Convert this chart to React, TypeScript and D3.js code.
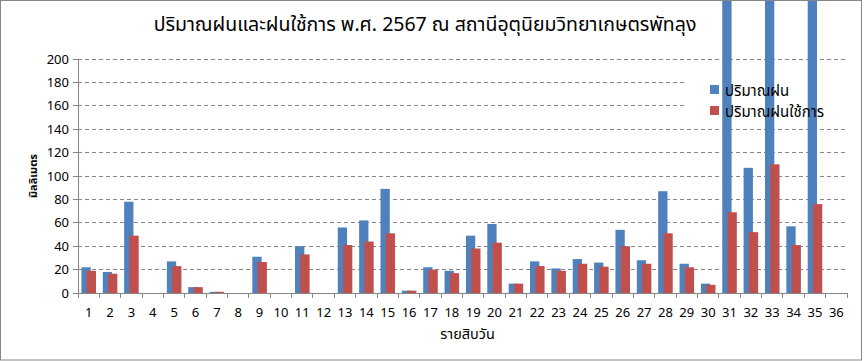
import React from "react";
import * as d3 from "d3";

const categories = ["1","2","3","4","5","6","7","8","9","10","11","12","13","14","15","16","17","18","19","20","21","22","23","24","25","26","27","28","29","30","31","32","33","34","35","36"];
const rainfall = [22, 18, 78, 0, 27, 5, 1, 0, 31, 0, 40, 0, 56, 62, 89, 2, 22, 19, 49, 59, 8, 27, 21, 29, 26, 54, 28, 87, 25, 8, 260, 107, 310, 57, 280, 0];
const effectiveRain = [19, 16.5, 49, 0, 23, 5, 1, 0, 26.5, 0, 33, 0, 41, 44, 51, 2, 20, 17, 38, 43, 8, 23, 19, 25, 22.5, 40, 25, 51, 22, 7, 69, 52, 110, 41, 76, 0];
const yTicks = [0, 20, 40, 60, 80, 100, 120, 140, 160, 180, 200];
const seriesNames = ["ปริมาณฝน", "ปริมาณฝนใช้การ"];
const title = "ปริมาณฝนและฝนใช้การ พ.ศ. 2567 ณ สถานีอุตุนิยมวิทยาเกษตรพัทลุง";
const xTitle = "รายสิบวัน";
const yTitle = "มิลลิเมตร";

const W = 864, H = 361;
const L = 78, R = 847, T = 59, B = 293;
const FONT = "Tahoma, 'Noto Sans Thai', 'Noto Sans', 'DejaVu Sans', sans-serif";
const AXIS = "#868686";
const BLUE = "#4F81BD";
const RED = "#C0504D";

export default function App() {
  const x = d3.scaleBand<string>().domain(categories).range([L, R]).padding(0);
  const y = d3.scaleLinear().domain([0, 200]).range([B, T]);
  const bw = x.bandwidth();
  const barW = 9.3;
  const bars = categories.map((c, i) => {
    const cx = (x(c) as number) + bw / 2;
    return { c, cx, v1: rainfall[i], v2: effectiveRain[i] };
  });
  return (
    <div style={{ position: "absolute", left: 0, top: 0, width: W, height: H, background: "#fff" }}>
      <svg width={W} height={H} style={{ display: "block", fontFamily: FONT }}>
        <rect x={0} y={0} width={W} height={H} fill="#fff" />
        {/* gridlines */}
        {yTicks.filter((t) => t > 0).map((t) => (
          <line key={"g" + t} x1={L} x2={R} y1={y(t)} y2={y(t)} stroke={AXIS} strokeWidth={1} strokeDasharray="4,3" shapeRendering="crispEdges" />
        ))}
        {/* legend background */}
        <rect x={685} y={70} width={160} height={50} fill="#fff" />
        {/* bars */}
        {bars.map((b) => (
          <g key={"b" + b.c}>
            {b.v1 > 0 && (
              <rect x={b.cx - 7.25} y={y(b.v1)} width={barW} height={B - y(b.v1)} fill={BLUE} />
            )}
            {b.v2 > 0 && (
              <rect x={b.cx - 2} y={y(b.v2)} width={barW} height={B - y(b.v2)} fill={RED} />
            )}
          </g>
        ))}
        {/* axes */}
        <line x1={L} x2={L} y1={T} y2={B} stroke={AXIS} shapeRendering="crispEdges" />
        <line x1={L - 5} x2={R} y1={B} y2={B} stroke={AXIS} shapeRendering="crispEdges" />
        {yTicks.map((t) => (
          <g key={"yt" + t}>
            <line x1={L - 5} x2={L} y1={y(t)} y2={y(t)} stroke={AXIS} shapeRendering="crispEdges" />
            <text x={L - 9} y={y(t)} dy="0.35em" textAnchor="end" fontSize={13} fill="#000">{t}</text>
          </g>
        ))}
        {categories.map((c) => (
          <line key={"xt" + c} x1={x(c) as number} x2={x(c) as number} y1={B} y2={B + 5} stroke={AXIS} shapeRendering="crispEdges" />
        ))}
        <line x1={R} x2={R} y1={B} y2={B + 5} stroke={AXIS} shapeRendering="crispEdges" />
        {categories.map((c) => (
          <text key={"xl" + c} x={(x(c) as number) + bw / 2} y={317} textAnchor="middle" fontSize={13} fill="#000">{c}</text>
        ))}
        {/* titles */}
        <text x={425} y={31} textAnchor="middle" fontSize={19.5} fill="#000">{title}</text>
        <text x={(L + R) / 2 + 5} y={339} textAnchor="middle" fontSize={14.5} fill="#000">{xTitle}</text>
        <text transform={`translate(37, ${(T + B) / 2}) rotate(-90)`} textAnchor="middle" fontSize={11} fontWeight="bold" fill="#000">{yTitle}</text>
        {/* legend */}
        <rect x={710} y={85} width={9} height={9} fill={BLUE} />
        <text x={725} y={96} fontSize={15} fill="#000">{seriesNames[0]}</text>
        <rect x={710} y={106} width={9} height={9} fill={RED} />
        <text x={725} y={117} fontSize={15} fill="#000">{seriesNames[1]}</text>
        {/* border */}
        <rect x={0.5} y={0.5} width={861} height={359.5} fill="none" stroke={AXIS} strokeWidth={1} />
      </svg>
    </div>
  );
}
